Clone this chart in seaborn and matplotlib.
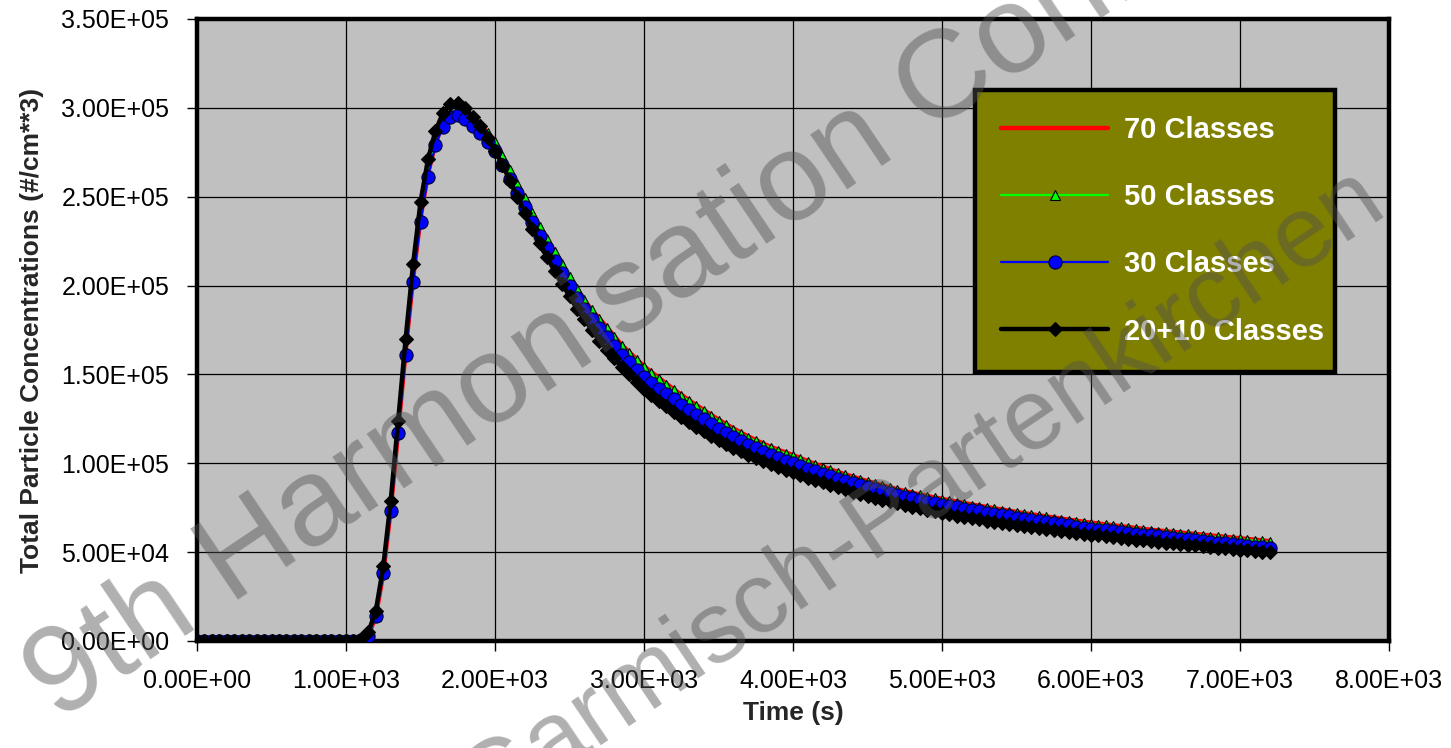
import matplotlib
matplotlib.use("Agg")
import matplotlib.pyplot as plt
import seaborn as sns
import numpy as np
import pandas as pd

# ---------------- data ----------------
time_s = [
    0, 50, 100, 150, 200, 250, 300, 350, 400, 450,
    500, 550, 600, 650, 700, 750, 800, 850, 900, 950,
    1000, 1050, 1100, 1150, 1200, 1250, 1300, 1350, 1400, 1450,
    1500, 1550, 1600, 1650, 1700, 1750, 1800, 1850, 1900, 1950,
    2000, 2050, 2100, 2150, 2200, 2250, 2300, 2350, 2400, 2450,
    2500, 2550, 2600, 2650, 2700, 2750, 2800, 2850, 2900, 2950,
    3000, 3050, 3100, 3150, 3200, 3250, 3300, 3350, 3400, 3450,
    3500, 3550, 3600, 3650, 3700, 3750, 3800, 3850, 3900, 3950,
    4000, 4050, 4100, 4150, 4200, 4250, 4300, 4350, 4400, 4450,
    4500, 4550, 4600, 4650, 4700, 4750, 4800, 4850, 4900, 4950,
    5000, 5050, 5100, 5150, 5200, 5250, 5300, 5350, 5400, 5450,
    5500, 5550, 5600, 5650, 5700, 5750, 5800, 5850, 5900, 5950,
    6000, 6050, 6100, 6150, 6200, 6250, 6300, 6350, 6400, 6450,
    6500, 6550, 6600, 6650, 6700, 6750, 6800, 6850, 6900, 6950,
    7000, 7050, 7100, 7150, 7200,
]

# concentrations in thousands of particles per cm**3
conc_70_k = [
    0, 0, 0, 0, 0, 0, 0, 0, 0, 0,
    0, 0, 0, 0, 0, 0, 0, 0, 0, 0,
    0, 0, 0.5, 3, 14, 38, 74, 118, 163, 204,
    238, 263, 280, 291, 296, 298, 298, 295, 291, 286,
    281, 273, 265, 257, 249, 241, 233, 226, 219, 212,
    205, 198, 192, 186, 181.6, 176.6, 171.6, 166.6, 162.6, 158.6,
    154.6, 151.3, 148.1, 144.8, 141.6, 138.6, 135.6, 132.8, 130.1, 127.3,
    124.6, 122.1, 119.6, 117.3, 115.1, 113.1, 111.1, 109.3, 107.6, 106.1,
    104.6, 102.9, 101.2, 99.6, 98.1, 96.6, 95.2, 93.8, 92.5, 91.2,
    90.0, 88.8, 87.6, 86.5, 85.4, 84.4, 83.4, 82.5, 81.6, 80.8,
    80.0, 79.2, 78.4, 77.6, 76.8, 76.1, 75.4, 74.7, 74.0, 73.3,
    72.6, 71.9, 71.3, 70.7, 70.1, 69.5, 68.9, 68.3, 67.7, 67.1,
    66.6, 66.1, 65.6, 65.1, 64.6, 64.1, 63.6, 63.1, 62.6, 62.2,
    61.8, 61.4, 61.0, 60.6, 60.2, 59.8, 59.4, 59.0, 58.6, 58.2,
    57.8, 57.4, 57.0, 56.6, 56.2,
]

conc_50_k = [
    0, 0, 0, 0, 0, 0, 0, 0, 0, 0,
    0, 0, 0, 0, 0, 0, 0, 0, 0, 0,
    0, 0, 0.5, 3, 14, 38, 74, 118, 163, 204,
    238, 263, 280, 291, 296, 298, 298, 295, 291, 286,
    281, 273, 265, 257, 249, 241, 233, 226, 219, 212,
    205, 198, 192, 186, 181, 176, 171, 166, 162, 158,
    154, 150.7, 147.5, 144.2, 141, 138, 135, 132.2, 129.5, 126.7,
    124, 121.5, 119, 116.7, 114.5, 112.5, 110.5, 108.7, 107, 105.5,
    104, 102.3, 100.6, 99.0, 97.5, 96.0, 94.6, 93.2, 91.9, 90.6,
    89.4, 88.2, 87.0, 85.9, 84.8, 83.8, 82.8, 81.9, 81.0, 80.2,
    79.4, 78.6, 77.8, 77.0, 76.2, 75.5, 74.8, 74.1, 73.4, 72.7,
    72.0, 71.3, 70.7, 70.1, 69.5, 68.9, 68.3, 67.7, 67.1, 66.5,
    66.0, 65.5, 65.0, 64.5, 64.0, 63.5, 63.0, 62.5, 62.0, 61.6,
    61.2, 60.8, 60.4, 60.0, 59.6, 59.2, 58.8, 58.4, 58.0, 57.6,
    57.2, 56.8, 56.4, 56.0, 55.6,
]

conc_30_k = [
    0, 0, 0, 0, 0, 0, 0, 0, 0, 0,
    0, 0, 0, 0, 0, 0, 0, 0, 0, 0,
    0, 0, 0.5, 3, 14, 38, 73, 117, 161, 202,
    236, 261, 279, 289, 295, 296, 294, 290, 286, 281,
    276, 268, 260, 252, 244, 236, 228, 221, 214, 207,
    200, 193, 187, 181, 176, 171, 166, 161, 157, 152.5,
    148.5, 145, 142, 139, 136, 133, 130, 127.3, 124.7, 122,
    119.5, 117, 114.7, 112.5, 110.4, 108.4, 106.5, 104.8, 103.1, 101.5,
    100.0, 98.5, 97.0, 95.5, 94.1, 92.7, 91.4, 90.1, 88.9, 87.7,
    86.5, 85.4, 84.3, 83.2, 82.2, 81.2, 80.2, 79.3, 78.4, 77.6,
    76.8, 76.0, 75.2, 74.4, 73.7, 73.0, 72.3, 71.6, 70.9, 70.1,
    69.3, 68.7, 68.0, 67.4, 66.8, 66.2, 65.6, 65.0, 64.4, 63.8,
    63.2, 62.7, 62.2, 61.7, 61.2, 60.8, 60.3, 59.9, 59.4, 59.0,
    58.5, 58.1, 57.6, 57.2, 56.7, 56.3, 55.8, 55.4, 54.9, 54.5,
    54.0, 53.6, 53.1, 52.7, 52.3,
]

conc_20_10_k = [
    0, 0, 0, 0, 0, 0, 0, 0, 0, 0,
    0, 0, 0, 0, 0, 0, 0, 0, 0, 0,
    0, 0, 1, 5, 17, 42, 79, 124, 170, 212,
    247, 271, 287, 297, 302, 303, 300, 295, 290, 283,
    276, 268, 259, 250, 241, 232, 224, 216, 208, 201,
    194, 187, 181, 175, 169, 164, 159, 154, 150, 146,
    142, 138.5, 135.2, 132, 129, 126, 123.2, 120.5, 118, 115.5,
    113.2, 111, 108.8, 106.8, 104.8, 103, 101.2, 99.5, 97.9, 96.4,
    95.0, 93.5, 92.0, 90.6, 89.2, 87.9, 86.6, 85.3, 84.1, 82.9,
    81.7, 80.6, 79.5, 78.5, 77.5, 76.5, 75.5, 74.6, 73.7, 72.9,
    72.1, 71.3, 70.5, 69.8, 69.1, 68.4, 67.7, 67.0, 66.4, 65.8,
    65.2, 64.6, 64.0, 63.4, 62.9, 62.4, 61.9, 61.4, 60.9, 60.4,
    59.9, 59.4, 58.9, 58.4, 57.9, 57.4, 57.0, 56.6, 56.2, 55.8,
    55.4, 55.0, 54.6, 54.2, 53.8, 53.4, 53.0, 52.6, 52.2, 51.8,
    51.4, 51.0, 50.6, 50.2, 49.8,
]

series_labels = ["70 Classes", "50 Classes", "30 Classes", "20+10 Classes"]
x_ticks = [0, 1000, 2000, 3000, 4000, 5000, 6000, 7000, 8000]
y_ticks = [0, 50000, 100000, 150000, 200000, 250000, 300000, 350000]
x_label = "Time (s)"
y_label = "Total Particle Concentrations (#/cm**3)"
watermark_1 = "9th Harmonisation Conference"
watermark_2 = "Garmisch-Partenkirchen"

# ---------------- styling ----------------
sns.set_theme(style="ticks")
plt.rcParams["font.family"] = ["Liberation Sans", "DejaVu Sans"]

W, H = 1451, 748
fig = plt.figure(figsize=(W / 100, H / 100), dpi=100)
fig.patch.set_facecolor("white")
ax_l, ax_r, ax_t, ax_b = 197, 1389, 19, 641
ax = fig.add_axes([ax_l / W, 1 - ax_b / H, (ax_r - ax_l) / W, (ax_b - ax_t) / H])
ax.set_facecolor("#C0C0C0")

styles = [
    dict(color="#FF0000", lw=3.2, marker=None),
    dict(color="#00FF00", lw=1.6, marker="^", markersize=7.5,
         markerfacecolor="#00FF00", markeredgecolor="black", markeredgewidth=0.8),
    dict(color="#0000FF", lw=1.6, marker="o", markersize=9.5,
         markerfacecolor="#0000FF", markeredgecolor="#000033", markeredgewidth=0.8),
    dict(color="black", lw=3.2, marker="D", markersize=7.5,
         markerfacecolor="black", markeredgecolor="black", markeredgewidth=0.8),
]
all_series = [conc_70_k, conc_50_k, conc_30_k, conc_20_10_k]

for i, (lab, vals, st) in enumerate(zip(series_labels, all_series, styles)):
    df = pd.DataFrame({"time": time_s, "conc": np.asarray(vals, dtype=float) * 1000.0})
    sns.lineplot(data=df, x="time", y="conc", ax=ax, label=lab, sort=False,
                 estimator=None, zorder=3 + i, **st)

ax.set_xlim(0, 8000)
ax.set_ylim(0, 350000)
ax.set_xticks(x_ticks)
ax.set_yticks(y_ticks)
ax.set_xticklabels(["{:.2E}".format(v) for v in x_ticks], fontsize=18)
ax.set_yticklabels(["{:.2E}".format(v) for v in y_ticks], fontsize=18)
ax.tick_params(axis="both", direction="out", length=7, width=1, color="black",
               labelcolor="black")
ax.tick_params(axis="y", pad=13)
ax.tick_params(axis="x", pad=13)
ax.grid(True, color="black", lw=0.9)
ax.set_axisbelow(True)
for sp in ax.spines.values():
    sp.set_visible(True)
    sp.set_color("black")
    sp.set_linewidth(3.2)

ax.set_xlabel(x_label, fontsize=19, fontweight="bold", labelpad=6)
ax.set_ylabel(y_label, fontsize=19, fontweight="bold", labelpad=12)

handles, labels = ax.get_legend_handles_labels()
leg_top = (ax_b - 90) / (ax_b - ax_t)
leg_h = 0.1
leg = ax.legend(handles, labels, loc="upper left",
                bbox_to_anchor=((975 - ax_l) / (ax_r - ax_l), leg_top - leg_h,
                                (1335 - 975) / (ax_r - ax_l), leg_h),
                mode="expand", borderaxespad=0,
                facecolor="#808000", edgecolor="black", framealpha=1, fancybox=False,
                prop={"weight": "bold", "size": 21}, labelcolor="white",
                handlelength=3.66, handletextpad=0.55, labelspacing=1.34,
                borderpad=0.9, numpoints=1)
leg.get_frame().set_linewidth(3.2)
leg.set_zorder(20)

# watermark
wm_kw = dict(rotation_mode="anchor", ha="center", va="center",
             color="#505050", alpha=0.45, zorder=30)
fig.text(742 / W, 1 - 222 / H, watermark_1, rotation=34, fontsize=90, **wm_kw)
fig.text(922 / W, 1 - 494 / H, watermark_2, rotation=34, fontsize=73, **wm_kw)

fig.savefig("out.png", dpi=100)
